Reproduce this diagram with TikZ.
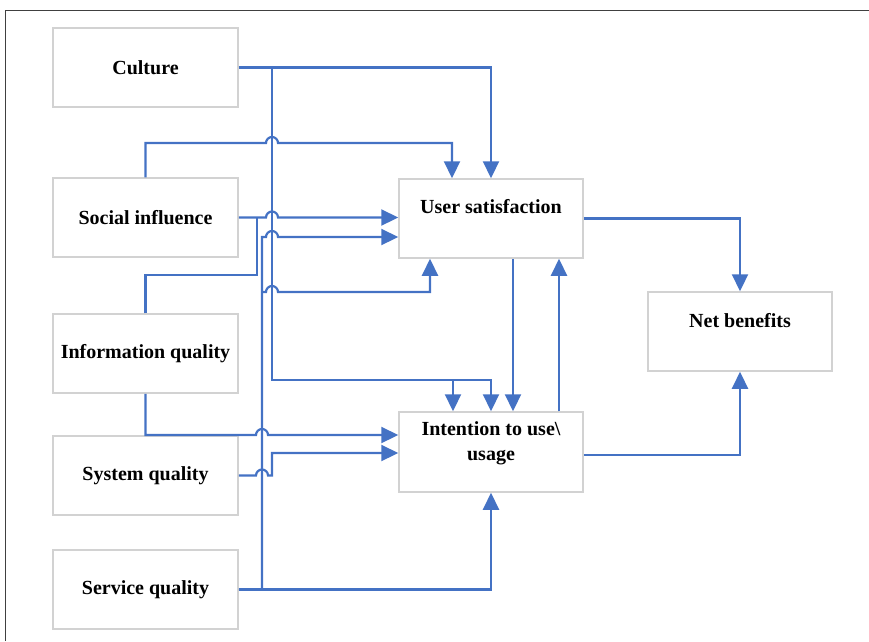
\documentclass[tikz,border=0pt]{standalone}
\usepackage{fontspec}
\setmainfont{Liberation Serif}
\usetikzlibrary{arrows.meta,calc}
\definecolor{lnblue}{HTML}{4472C4}
\definecolor{boxgray}{HTML}{D2D2D2}
\begin{document}
\begin{tikzpicture}[x=1pt,y=-1pt,
  box/.style={draw=boxgray, line width=1.5pt, fill=white, minimum width=185pt, minimum height=79pt, inner sep=0pt, font=\bfseries\fontsize{20}{25}\selectfont, align=center},
  lbl/.style={font=\bfseries\fontsize{20}{25}\selectfont, align=center, inner sep=0pt},
  conn/.style={draw=lnblue, line width=2.2pt},
  arr/.style={conn, -{Triangle[length=17pt,width=16pt]}}
]
\useasboundingbox (0,0) rectangle (869,641);
\draw[black!75, line width=1pt] (5.5,641) -- (5.5,10.5) -- (869,10.5);

% boxes
\node[box] (cult) at (145.5,67.5) {Culture};
\node[box] (soc) at (145.5,217.5) {Social influence};
\node[box] (info) at (145.5,353.5) {Information quality};
\node[box] (sys) at (145.5,475.5) {System quality};
\node[box] (serv) at (145.5,589.5) {Service quality};
\node[box, minimum width=184pt] (us) at (491,218.5) {};
\node[box, minimum width=184pt] (net) at (740,331.5) {};
\node[box, minimum width=184pt, minimum height=80pt] (int) at (491,452) {};
\node[lbl] (ust) at ($(us.center)+(0,-12)$) {User satisfaction};
\node[lbl] (nett) at ($(net.center)+(0,-11)$) {Net benefits};
\node[lbl] (intt) at ($(int.center)+(0,-9)$) {Intention to use\textbackslash\\usage};

% Culture
\draw[arr] (cult.east) -| (us.north);
\draw[arr] (cult.east) -| (272,380) -| (int.north);
\draw[arr] (453,380) -- ($(int.north)+(-38,0)$);

% Social influence
\draw[arr] (soc.north) |- (266,143) arc[start angle=180,end angle=360,radius=6] -| ($(us.north)+(-39,0)$);
\draw[arr] (soc.east) -- (266,217.5) arc[start angle=180,end angle=360,radius=6] -- (us.west |- soc.east);

% Information quality
\draw[conn] (info.north) |- (257,275) -- (257,217.5);
\draw[arr] (info.south) |- (256,435) arc[start angle=180,end angle=360,radius=6] -- ($(int.west)+(0,-17)$);

% System quality
\draw[arr] (sys.east) -- (256,475.5) arc[start angle=180,end angle=360,radius=6] -- (272,475.5) -- (272,453) -- ($(int.west)+(0,1)$);

% Service quality
\draw[arr] (serv.east) -| (262,237) -- (266,237) arc[start angle=180,end angle=360,radius=6] -- ($(us.west)+(0,18.5)$);
\draw[arr] (262,292) -- (266,292) arc[start angle=180,end angle=360,radius=6] -| ($(us.south)+(-61,0)$);
\draw[arr] (serv.east) -| (int.south);

% Right side
\draw[arr] (us.east) -| (net.north);
\draw[arr] ($(int.east)+(0,3)$) -| (net.south);
\draw[arr] ($(us.south)+(22,0)$) -- ($(int.north)+(22,0)$);
\draw[arr] ($(int.north)+(68,0)$) -- ($(us.south)+(68,0)$);
\end{tikzpicture}
\end{document}
